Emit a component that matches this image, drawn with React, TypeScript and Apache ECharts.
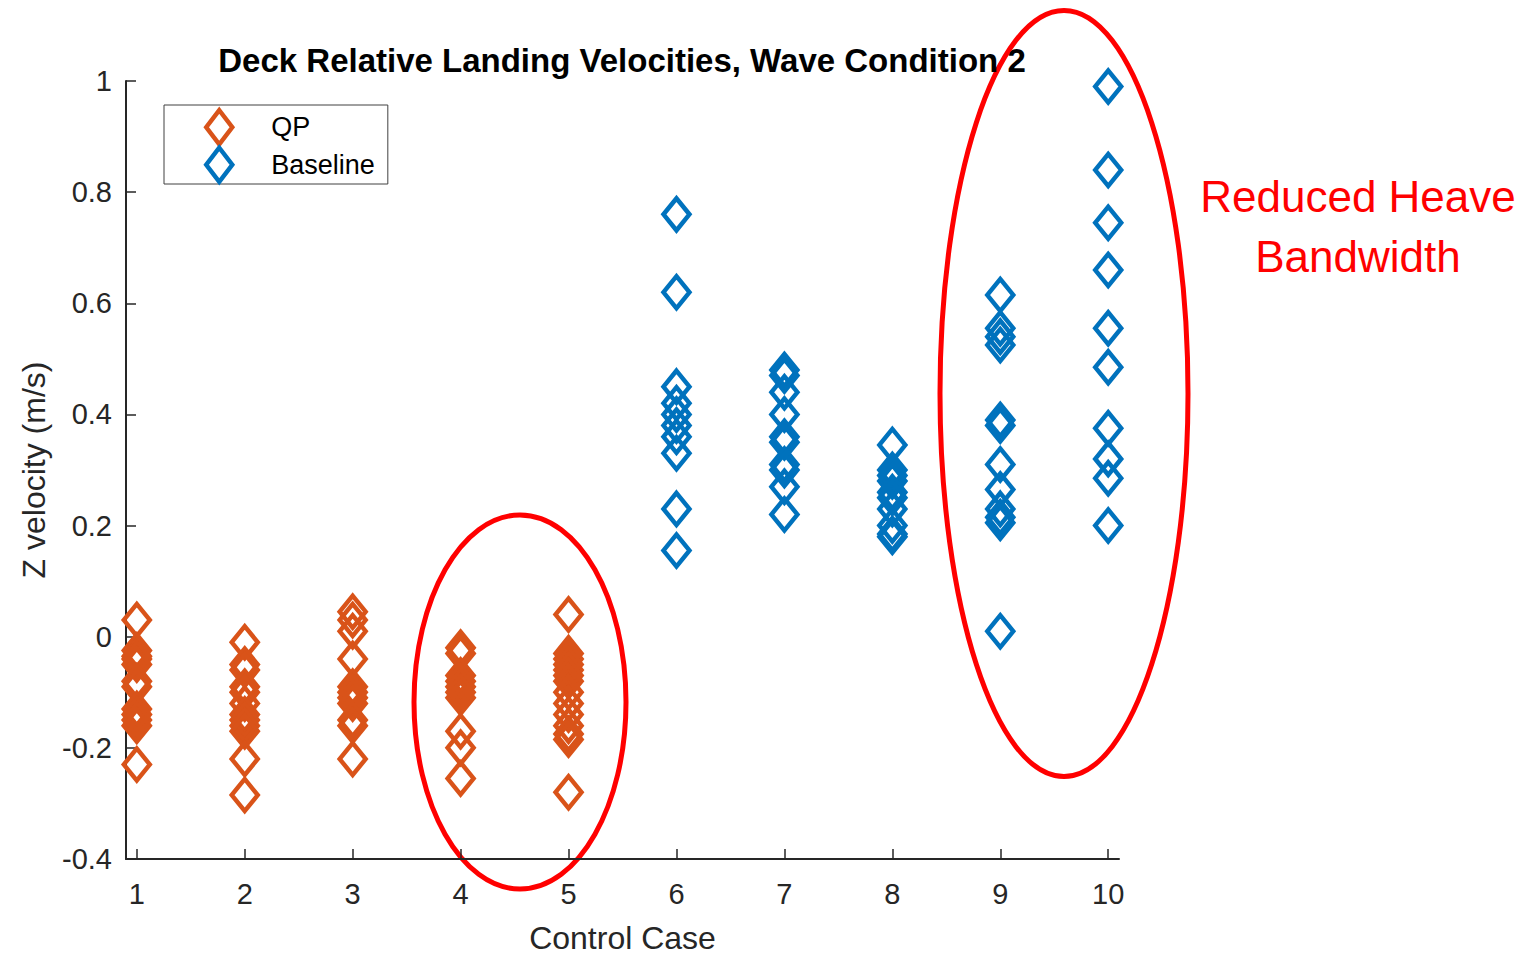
import React, { useEffect, useRef } from "react";
import * as echarts from "echarts";

// Landing velocities per control case
const qpCases = [1, 2, 3, 4, 5];
const qpValues: number[][] = [
  [0.03, -0.025, -0.035, -0.04, -0.05, -0.08, -0.09, -0.13, -0.14, -0.15, -0.16, -0.23],
  [-0.01, -0.05, -0.06, -0.09, -0.1, -0.12, -0.14, -0.15, -0.16, -0.17, -0.22, -0.285],
  [0.045, 0.03, 0.01, -0.04, -0.09, -0.1, -0.11, -0.12, -0.15, -0.16, -0.22],
  [-0.02, -0.03, -0.07, -0.08, -0.09, -0.1, -0.11, -0.17, -0.2, -0.255],
  [0.04, -0.03, -0.04, -0.05, -0.06, -0.07, -0.08, -0.1, -0.12, -0.14, -0.16, -0.175, -0.185, -0.28],
];

const baselineCases = [6, 7, 8, 9, 10];
const baselineValues: number[][] = [
  [0.76, 0.62, 0.45, 0.42, 0.4, 0.38, 0.36, 0.33, 0.23, 0.155],
  [0.48, 0.47, 0.44, 0.4, 0.36, 0.35, 0.31, 0.3, 0.27, 0.22],
  [0.345, 0.3, 0.29, 0.28, 0.26, 0.25, 0.23, 0.2, 0.185, 0.18],
  [0.615, 0.555, 0.54, 0.525, 0.39, 0.38, 0.31, 0.265, 0.23, 0.215, 0.205, 0.01],
  [0.99, 0.84, 0.745, 0.66, 0.555, 0.485, 0.375, 0.32, 0.285, 0.2],
];

const xTicks = [1, 2, 3, 4, 5, 6, 7, 8, 9, 10];

const QP_COLOR = "#D95319";
const BASE_COLOR = "#0072BD";
const AXIS_COLOR = "#262626";
const FONT = "'Liberation Sans', Arial, Helvetica, sans-serif";

function toPoints(cases: number[], values: number[][]): number[][] {
  const pts: number[][] = [];
  cases.forEach((c, i) => values[i].forEach((v) => pts.push([c, v])));
  return pts;
}

export default function App() {
  const ref = useRef<HTMLDivElement>(null);

  useEffect(() => {
    if (!ref.current) return;
    const chart = echarts.init(ref.current, undefined, { renderer: "svg" });

    const markerStyle = (color: string) => ({
      color: "rgba(0,0,0,0)",
      borderColor: color,
      borderWidth: 4.5,
      opacity: 1,
    });

    chart.setOption({
      animation: false,
      backgroundColor: "#ffffff",
      title: {
        text: "Deck Relative Landing Velocities, Wave Condition 2",
        left: 617,
        top: 39,
        textAlign: "center",
        textStyle: { fontFamily: FONT, fontSize: 33, fontWeight: "bold", color: "#000000" },
      },
      legend: {
        orient: "vertical",
        left: 164,
        top: 105,
        padding: [3, 13, 0, 40],
        itemGap: -1,
        itemWidth: 26,
        itemHeight: 34,
        backgroundColor: "#ffffff",
        borderColor: "#404040",
        borderWidth: 1,
        borderRadius: 0,
        data: ["QP", "Baseline"],
        itemStyle: { borderWidth: 4.5, opacity: 1 },
        textStyle: { fontFamily: FONT, fontSize: 27, color: "#000000", padding: [0, 0, 0, 34] },
      },
      grid: { left: 126, top: 81, right: 413, bottom: 96 },
      xAxis: {
        type: "value",
        min: 0.9,
        max: 10.1,
        name: "Control Case",
        nameLocation: "middle",
        nameGap: 63,
        nameTextStyle: { fontFamily: FONT, fontSize: 32, color: AXIS_COLOR },
        splitLine: { show: false },
        axisLine: { show: true, onZero: false, lineStyle: { color: AXIS_COLOR, width: 2 } },
        axisTick: { show: true, inside: true, length: 10, customValues: xTicks, lineStyle: { color: AXIS_COLOR, width: 1.5 } },
        axisLabel: {
          customValues: xTicks,
          margin: 20,
          fontFamily: FONT,
          fontSize: 29,
          color: AXIS_COLOR,
        },
      },
      yAxis: {
        type: "value",
        min: -0.4,
        max: 1,
        interval: 0.2,
        name: "Z velocity (m/s)",
        nameLocation: "middle",
        nameGap: 76,
        nameTextStyle: { fontFamily: FONT, fontSize: 32, color: AXIS_COLOR },
        splitLine: { show: false },
        axisLine: { show: true, onZero: false, lineStyle: { color: AXIS_COLOR, width: 2 } },
        axisTick: { show: true, inside: true, length: 10, lineStyle: { color: AXIS_COLOR, width: 1.5 } },
        axisLabel: {
          margin: 14,
          fontFamily: FONT,
          fontSize: 29,
          color: AXIS_COLOR,
          formatter: (v: number) => String(Math.round(v * 10) / 10),
        },
      },
      series: [
        {
          name: "QP",
          type: "scatter",
          symbol: "diamond",
          symbolSize: [26, 32],
          itemStyle: markerStyle(QP_COLOR),
          emphasis: { disabled: true },
          data: toPoints(qpCases, qpValues),
        },
        {
          name: "Baseline",
          type: "scatter",
          symbol: "diamond",
          symbolSize: [26, 32],
          itemStyle: markerStyle(BASE_COLOR),
          emphasis: { disabled: true },
          data: toPoints(baselineCases, baselineValues),
        },
      ],
      graphic: [
        {
          type: "ellipse",
          shape: { cx: 520, cy: 702, rx: 106, ry: 187 },
          style: { fill: "none", stroke: "#FF0000", lineWidth: 5 },
          silent: true,
        },
        {
          type: "ellipse",
          shape: { cx: 1064, cy: 393.5, rx: 124, ry: 383 },
          style: { fill: "none", stroke: "#FF0000", lineWidth: 5 },
          silent: true,
        },
        {
          type: "text",
          x: 1358,
          y: 196.5,
          style: {
            text: "Reduced Heave",
            font: `44px ${FONT}`,
            fill: "#FF0000",
            align: "center",
            verticalAlign: "middle",
          },
          silent: true,
        },
        {
          type: "text",
          x: 1358,
          y: 256.5,
          style: {
            text: "Bandwidth",
            font: `44px ${FONT}`,
            fill: "#FF0000",
            align: "center",
            verticalAlign: "middle",
          },
          silent: true,
        },
      ],
    });

    return () => chart.dispose();
  }, []);

  return (
    <div
      ref={ref}
      style={{ position: "fixed", left: 0, top: 0, width: 1532, height: 959, background: "#ffffff" }}
    />
  );
}
